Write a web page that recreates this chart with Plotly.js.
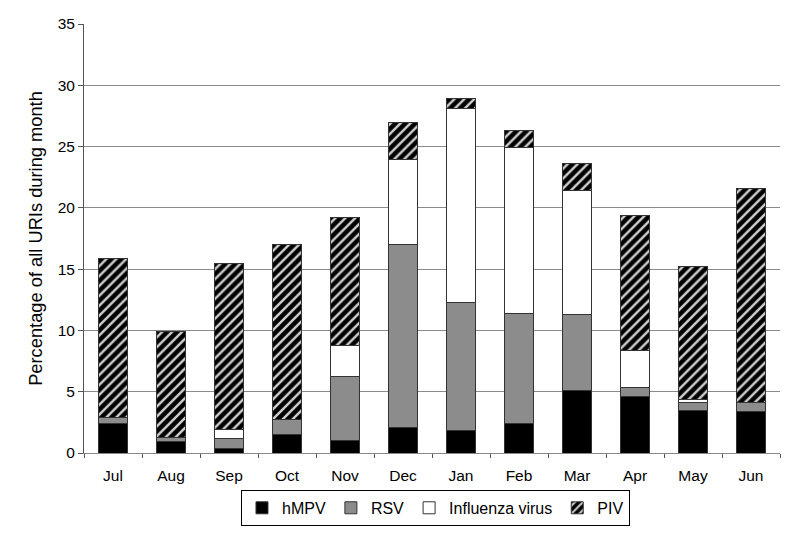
<!DOCTYPE html>
<html>
<head>
<meta charset="utf-8">
<script src="https://cdn.plot.ly/plotly-3.0.1.min.js"></script>
<style>html,body{margin:0;padding:0;background:#fff;}#chart{width:800px;height:534px;}</style>
</head>
<body>
<div id="chart"></div>
<script>
const months = ["Jul","Aug","Sep","Oct","Nov","Dec","Jan","Feb","Mar","Apr","May","Jun"];
const hMPV = [2.4, 0.9, 0.4, 1.5, 1.0, 2.1, 1.8, 2.4, 5.1, 4.65, 3.5, 3.35];
const RSV = [0.5, 0.4, 0.75, 1.2, 5.25, 14.9, 10.5, 9.0, 6.2, 0.7, 0.6, 0.8];
const Influenza = [0, 0, 0.8, 0, 2.5, 6.95, 15.8, 13.5, 10.15, 3.05, 0.3, 0];
const PIV = [13.0, 8.6, 13.5, 14.35, 10.45, 3.0, 0.85, 1.45, 2.2, 10.95, 10.85, 17.45];
const yTicks = [0, 5, 10, 15, 20, 25, 30, 35];

const line = {color: '#333', width: 1};
const traces = [
  {name: 'hMPV', x: months, y: hMPV, type: 'bar', marker: {color: '#000', line: line}},
  {name: 'RSV', x: months, y: RSV, type: 'bar', marker: {color: '#8c8c8c', line: line}},
  {name: 'Influenza virus', x: months, y: Influenza, type: 'bar', marker: {color: '#fff', line: line}},
  {name: 'PIV', x: months, y: PIV, type: 'bar', marker: {color: '#000', line: line,
    pattern: {shape: '/', bgcolor: '#000', fgcolor: '#d0d0d0', size: 7, solidity: 0.35}}}
];
const font = {family: 'Liberation Sans, Arial, sans-serif', color: '#000'};
const layout = {
  width: 800, height: 534,
  margin: {l: 84, r: 20, t: 24, b: 81, autoexpand: false},
  barmode: 'stack', bargap: 0.5,
  paper_bgcolor: '#fff', plot_bgcolor: '#fff',
  font: Object.assign({size: 15.5}, font),
  showlegend: true,
  legend: {orientation: 'h', x: 0.505, xanchor: 'center', y: -0.086, yanchor: 'top',
    traceorder: 'normal', bordercolor: '#000', borderwidth: 1, font: {size: 16},
    itemwidth: 30, tracegroupgap: 0},
  xaxis: {type: 'category', tickson: 'boundaries', ticks: 'outside', ticklen: 4, tickcolor: '#555',
    ticklabelstandoff: 8,
    showline: true, linecolor: '#888', linewidth: 1, showgrid: false, tickfont: {size: 15.5}},
  yaxis: {range: [0, 35], tickvals: yTicks, ticks: 'outside', ticklen: 5, tickcolor: '#555',
    showline: true, linecolor: '#555', linewidth: 1, showgrid: true, gridcolor: '#8a8a8a', gridwidth: 1,
    zeroline: false, tickfont: {size: 15.5},
    title: {text: 'Percentage of all URIs during month', font: {size: 18.3}, standoff: 10}}
};
Plotly.newPlot('chart', traces, layout, {displayModeBar: false, staticPlot: true});
</script>
</body>
</html>
